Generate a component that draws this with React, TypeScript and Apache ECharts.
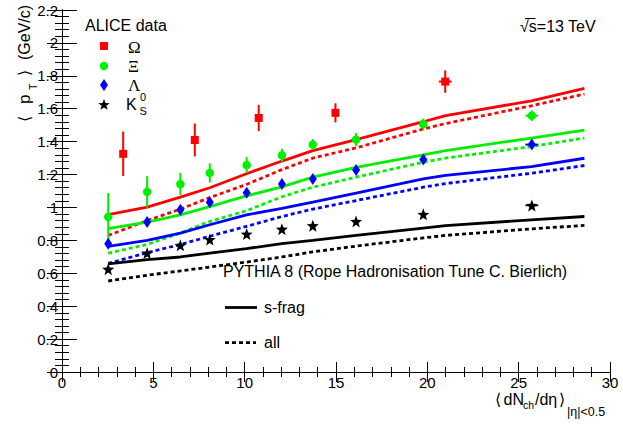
import React, { useEffect, useRef } from 'react';
import * as echarts from 'echarts';

// PYTHIA 8 curves (x positions shared by all curves)
const curveX = [2.53, 4.66, 6.48, 8.09, 10.1, 12.04, 13.73, 16.1, 19.78, 21.0, 25.7, 28.6];
const omegaSfrag = [0.956, 1.002, 1.063, 1.12, 1.205, 1.282, 1.345, 1.412, 1.521, 1.558, 1.648, 1.723];
const omegaAll = [0.83, 0.92, 0.99, 1.06, 1.14, 1.23, 1.3, 1.362, 1.477, 1.51, 1.618, 1.689];
const xiSfrag = [0.872, 0.911, 0.955, 1.005, 1.07, 1.125, 1.184, 1.244, 1.319, 1.345, 1.422, 1.47];
const xiAll = [0.722, 0.775, 0.845, 0.915, 0.98, 1.065, 1.123, 1.184, 1.275, 1.3, 1.37, 1.422];
const lambdaSfrag = [0.764, 0.8, 0.844, 0.895, 0.955, 0.995, 1.032, 1.087, 1.174, 1.195, 1.248, 1.299];
const lambdaAll = [0.66, 0.725, 0.775, 0.825, 0.885, 0.945, 0.99, 1.042, 1.123, 1.145, 1.208, 1.255];
const k0sSfrag = [0.657, 0.683, 0.699, 0.722, 0.75, 0.78, 0.8, 0.83, 0.875, 0.89, 0.925, 0.945];
const k0sAll = [0.553, 0.588, 0.614, 0.638, 0.668, 0.699, 0.73, 0.765, 0.815, 0.83, 0.87, 0.891];

// ALICE data
const omegaX = [3.35, 7.27, 10.77, 14.97, 20.98];
const omegaY = [1.326, 1.41, 1.544, 1.575, 1.765];
const omegaErr = [0.135, 0.1, 0.08, 0.058, 0.068];
const omegaXErr = [0, 0, 0, 0, 0.35];

const dataX = [2.53, 4.66, 6.48, 8.09, 10.11, 12.04, 13.73, 16.1, 19.78, 25.72];
const xiY = [0.943, 1.095, 1.142, 1.21, 1.258, 1.317, 1.382, 1.412, 1.507, 1.558];
const xiErr = [0.145, 0.095, 0.067, 0.058, 0.048, 0.04, 0.033, 0.04, 0.033, 0.032];
const xiXErr = [0, 0, 0, 0, 0, 0, 0, 0, 0, 0.35];
const lambdaY = [0.78, 0.911, 0.986, 1.032, 1.089, 1.143, 1.173, 1.228, 1.291, 1.382];
const lambdaErr = [0.02, 0.02, 0.02, 0.02, 0.02, 0.02, 0.02, 0.02, 0.02, 0.02];
const lambdaXErr = [0, 0, 0, 0, 0, 0, 0, 0, 0, 0.35];
const k0sY = [0.625, 0.723, 0.77, 0.805, 0.838, 0.868, 0.889, 0.915, 0.958, 1.012];
const k0sErr = [0.01, 0.01, 0.01, 0.01, 0.01, 0.01, 0.01, 0.01, 0.01, 0.01];
const k0sXErr = [0, 0, 0, 0, 0, 0, 0, 0, 0, 0.35];

const xTicks = { min: 0, max: 30, interval: 5 };
const yTicks = { min: 0, max: 2.2, interval: 0.2 };

const RED = '#ff0000';
const GREEN = '#00f000';
const BLUE = '#0000ff';
const BLACK = '#000000';
const FONT = 'Liberation Sans, Arial, Helvetica, sans-serif';
const SERIF = 'Liberation Serif, Times New Roman, serif';

function starPoints(cx: number, cy: number, ro: number, ri: number) {
  const pts: number[][] = [];
  for (let i = 0; i < 10; i++) {
    const a = -Math.PI / 2 + (i * Math.PI) / 5;
    const r = i % 2 === 0 ? ro : ri;
    pts.push([cx + r * Math.cos(a), cy + r * Math.sin(a)]);
  }
  return pts;
}
const starSymbol =
  'path://' +
  starPoints(0, 0, 10, 4.2)
    .map((p, i) => (i === 0 ? 'M' : 'L') + p[0].toFixed(2) + ',' + p[1].toFixed(2))
    .join(' ') +
  ' Z';

function curve(name: string, ys: number[], color: string, dashed: boolean) {
  return {
    name,
    type: 'line',
    data: curveX.map((x, i) => [x, ys[i]]),
    symbol: 'none',
    showSymbol: false,
    silent: true,
    z: 2,
    lineStyle: { color, width: 2.8, type: dashed ? [4, 3] : 'solid' },
  };
}

function errBars(xs: number[], ys: number[], ey: number[], ex: number[], color: string, w: number) {
  return {
    type: 'custom',
    silent: true,
    z: 3,
    data: xs.map((x, i) => [x, ys[i], ey[i], ex[i]]),
    encode: { x: 0, y: 1 },
    renderItem: (_p: any, api: any) => {
      const x = api.value(0);
      const y = api.value(1);
      const e = api.value(2);
      const h = api.value(3);
      const children: any[] = [];
      const lo = api.coord([x, y - e]);
      const hi = api.coord([x, y + e]);
      children.push({
        type: 'line',
        shape: { x1: lo[0], y1: lo[1], x2: hi[0], y2: hi[1] },
        style: { stroke: color, lineWidth: w },
      });
      if (h > 0) {
        const l = api.coord([x - h, y]);
        const r = api.coord([x + h, y]);
        children.push({
          type: 'line',
          shape: { x1: l[0], y1: l[1], x2: r[0], y2: r[1] },
          style: { stroke: color, lineWidth: w },
        });
      }
      return { type: 'group', children };
    },
  };
}

function markers(name: string, xs: number[], ys: number[], symbol: string, size: any, color: string) {
  return {
    name,
    type: 'scatter',
    data: xs.map((x, i) => [x, ys[i]]),
    symbol,
    symbolSize: size,
    itemStyle: { color, opacity: 1 },
    silent: true,
    z: 4,
  };
}

function txt(text: string, x: number, y: number, size: number, opts: any = {}) {
  return {
    type: 'text',
    x,
    y,
    silent: true,
    style: {
      text,
      fill: '#000',
      font: `${size}px ${opts.family || FONT}`,
      textAlign: opts.align || 'left',
      textVerticalAlign: 'middle',
      verticalAlign: 'middle',
    },
  };
}

export default function App() {
  const ref = useRef<HTMLDivElement>(null);
  useEffect(() => {
    if (!ref.current) return;
    const chart = echarts.init(ref.current, undefined, { renderer: 'svg' });

    const axisCommon = {
      type: 'value',
      axisLine: { show: true, lineStyle: { color: '#000', width: 1 } },
      splitLine: { show: false },
    };

    const option: any = {
      animation: false,
      backgroundColor: '#fff',
      grid: { left: 62, right: 13, top: 10, bottom: 52, containLabel: false },
      xAxis: [
        {
          ...axisCommon,
          ...xTicks,
          position: 'bottom',
          axisTick: { show: true, inside: true, length: 10, lineStyle: { color: '#000' } },
          minorTick: { show: true, splitNumber: 5, length: 5, lineStyle: { color: '#000' } },
          axisLabel: { show: true, color: '#000', fontSize: 15, fontFamily: FONT, margin: 3 },
        },
        {
          ...axisCommon,
          ...xTicks,
          position: 'top',
          axisTick: { show: true, inside: true, length: 10, lineStyle: { color: '#000' } },
          minorTick: { show: true, splitNumber: 5, length: 5, lineStyle: { color: '#000' } },
          axisLabel: { show: false },
        },
      ],
      yAxis: [
        {
          ...axisCommon,
          ...yTicks,
          position: 'left',
          axisTick: { show: true, inside: true, length: 15, lineStyle: { color: '#000' } },
          minorTick: { show: true, splitNumber: 5, length: 7, lineStyle: { color: '#000' } },
          axisLabel: { show: true, color: '#000', fontSize: 15, fontFamily: FONT, margin: 4 },
        },
        {
          ...axisCommon,
          ...yTicks,
          position: 'right',
          axisTick: { show: true, inside: true, length: 15, lineStyle: { color: '#000' } },
          minorTick: { show: true, splitNumber: 5, length: 7, lineStyle: { color: '#000' } },
          axisLabel: { show: false },
        },
      ],
      series: [
        curve('Ω s-frag', omegaSfrag, RED, false),
        curve('Ω all', omegaAll, RED, true),
        curve('Ξ s-frag', xiSfrag, GREEN, false),
        curve('Ξ all', xiAll, GREEN, true),
        curve('Λ s-frag', lambdaSfrag, BLUE, false),
        curve('Λ all', lambdaAll, BLUE, true),
        curve('K0S s-frag', k0sSfrag, BLACK, false),
        curve('K0S all', k0sAll, BLACK, true),
        errBars(omegaX, omegaY, omegaErr, omegaXErr, RED, 2),
        errBars(dataX, xiY, xiErr, xiXErr, GREEN, 2),
        errBars(dataX, lambdaY, lambdaErr, lambdaXErr, BLUE, 2),
        errBars(dataX, k0sY, k0sErr, k0sXErr, BLACK, 1.5),
        markers('Ω', omegaX, omegaY, 'rect', 8, RED),
        markers('Ξ', dataX, xiY, 'circle', 8.5, GREEN),
        markers('Λ', dataX, lambdaY, 'diamond', [8, 12], BLUE),
        markers('K0S', dataX, k0sY, starSymbol, 12, BLACK),
      ],
      graphic: [
        txt('ALICE data', 85, 25, 16),
        // legend markers
        { type: 'rect', silent: true, shape: { x: 100, y: 42, width: 8, height: 8 }, style: { fill: RED } },
        { type: 'circle', silent: true, shape: { cx: 104, cy: 66, r: 4.2 }, style: { fill: GREEN } },
        {
          type: 'polygon',
          silent: true,
          shape: { points: [[104, 79], [108, 85], [104, 91], [100, 85]] },
          style: { fill: BLUE },
        },
        { type: 'polygon', silent: true, shape: { points: starPoints(104, 105, 6, 2.5) }, style: { fill: BLACK } },
        txt('Ω', 128, 47, 17, { family: SERIF }),
        txt('Ξ', 128, 66.5, 17, { family: SERIF }),
        txt('Λ', 128, 85, 17, { family: SERIF }),
        txt('K', 126, 104, 16),
        txt('0', 140, 96.5, 11),
        txt('S', 139.5, 110.5, 11),
        // energy label
        txt('√s=13 TeV', 520, 26, 16),
        { type: 'line', silent: true, shape: { x1: 525, y1: 18.5, x2: 535.5, y2: 18.5 }, style: { stroke: '#000', lineWidth: 1 } },
        // model legend
        txt('PYTHIA 8 (Rope Hadronisation Tune C. Bierlich)', 223, 271, 16),
        { type: 'line', silent: true, shape: { x1: 225, y1: 307.5, x2: 257, y2: 307.5 }, style: { stroke: '#000', lineWidth: 2.8 } },
        txt('s-frag', 264, 307, 16),
        {
          type: 'line',
          silent: true,
          shape: { x1: 225, y1: 342.7, x2: 256, y2: 342.7 },
          style: { stroke: '#000', lineWidth: 2.8, lineDash: [4, 3] },
        },
        txt('all', 264, 342, 16),
        // x-axis title
        txt('⟨', 495, 399, 16),
        txt('dN', 503.5, 399, 16),
        txt('ch', 523, 405, 10.5),
        txt('/dη', 535, 399, 16),
        txt('⟩', 558.5, 399, 16),
        txt('|η|<0.5', 567, 412, 12.5),
        // y-axis title (rotated)
        {
          type: 'group',
          x: 24,
          y: 122,
          rotation: Math.PI / 2,
          silent: true,
          children: [
            txt('⟨', 0, 0, 16),
            txt('p', 18, 0, 17),
            txt('T', 32, 9, 10.5),
            txt('⟩', 46, 0, 16),
            txt('(GeV/c)', 62, 0, 16),
          ],
        },
      ],
    };
    chart.setOption(option);
    return () => chart.dispose();
  }, []);
  return (
    <div
      ref={ref}
      style={{ position: 'fixed', left: 0, top: 0, width: 623, height: 424, background: '#fff' }}
    />
  );
}
